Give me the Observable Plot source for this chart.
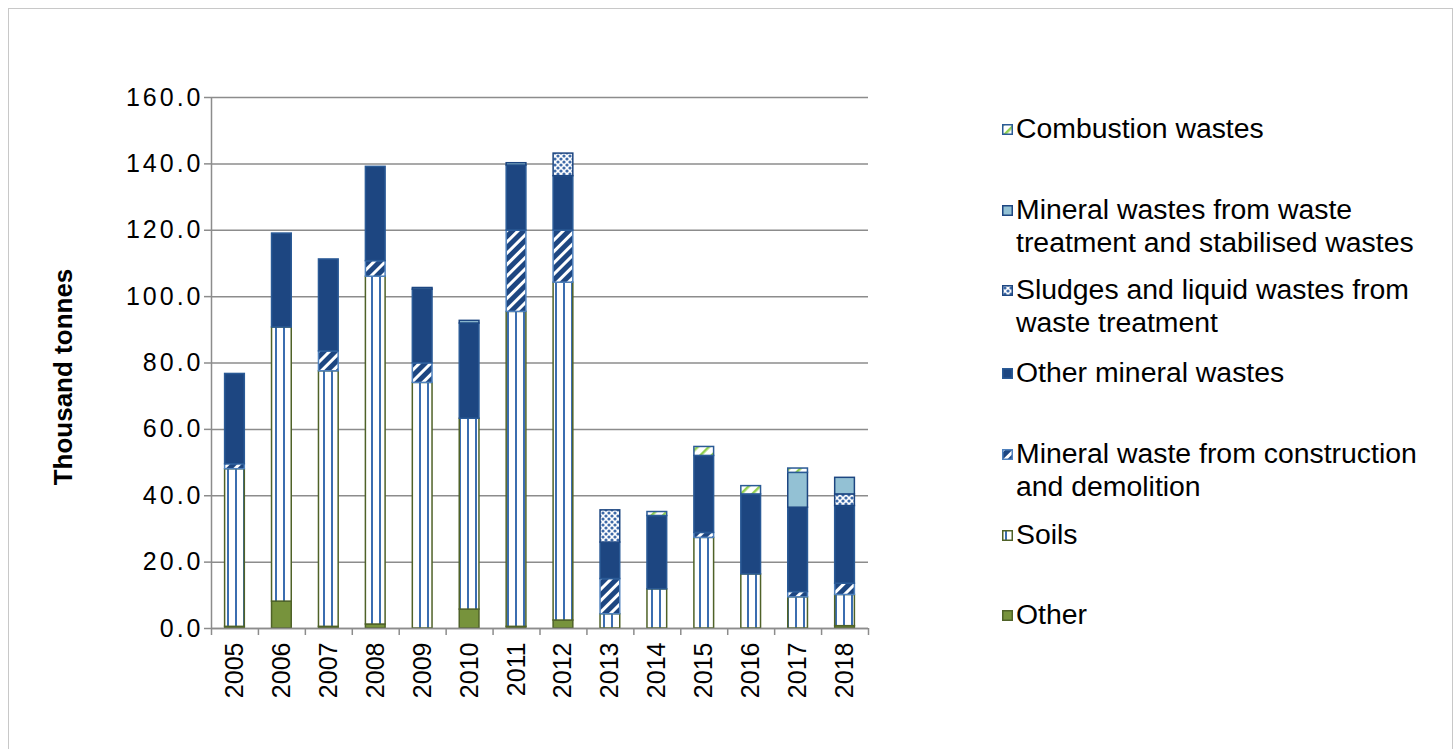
<!DOCTYPE html>
<html>
<head>
<meta charset="utf-8">
<script src="https://cdn.jsdelivr.net/npm/d3@7"></script>
<script src="https://cdn.jsdelivr.net/npm/@observablehq/plot@0.6"></script>
<style>
  html, body { margin: 0; padding: 0; background: #fff; }
  body { width: 1455px; height: 749px; position: relative; overflow: hidden; font-family: "Liberation Sans", Arial, sans-serif; }
  #frame { position: absolute; left: 8px; top: 8px; width: 1445px; height: 760px; border: 1px solid #c8c8c8; box-sizing: border-box; }
  #chart { position: absolute; left: 0; top: 0; }
  #legend { position: absolute; left: 0; top: 0; width: 1455px; height: 749px; pointer-events: none; }
  .item { position: absolute; left: 1016px; font-size: 28.4px; line-height: 33px; color: #000; white-space: nowrap; }
  .sw { position: absolute; left: 1002px; width: 11px; height: 11px; }
</style>
</head>
<body>
<svg width="0" height="0" style="position:absolute">
  <defs>
    <pattern id="p-soils" patternUnits="userSpaceOnUse" width="8" height="8">
      <rect width="8" height="8" fill="#ffffff"/>
      <rect x="3" y="0" width="2" height="8" fill="#3b6db0"/>
    </pattern>
    <pattern id="p-cdw" patternUnits="userSpaceOnUse" width="8" height="8" patternTransform="rotate(45)">
      <rect width="8" height="8" fill="#1d4681"/>
      <rect x="0" y="0" width="3" height="8" fill="#ffffff"/>
    </pattern>
    <pattern id="p-sludge" patternUnits="userSpaceOnUse" width="6" height="6">
      <rect width="6" height="6" fill="#ffffff"/>
      <circle cx="0" cy="0" r="1.6" fill="#3e6aa8"/>
      <circle cx="6" cy="0" r="1.6" fill="#3e6aa8"/>
      <circle cx="0" cy="6" r="1.6" fill="#3e6aa8"/>
      <circle cx="6" cy="6" r="1.6" fill="#3e6aa8"/>
      <circle cx="3" cy="3" r="1.6" fill="#3e6aa8"/>
    </pattern>
    <pattern id="p-cw" patternUnits="userSpaceOnUse" width="8" height="8" patternTransform="rotate(45)">
      <rect width="8" height="8" fill="#ffffff"/>
      <rect x="0" y="0" width="2.5" height="8" fill="#92d050"/>
    </pattern>
  </defs>
</svg>
<div id="frame"></div>
<div id="chart"></div>
<div id="legend"></div>
<script>
// ---- data ----
const years = ["2005","2006","2007","2008","2009","2010","2011","2012","2013","2014","2015","2016","2017","2018"];
const categories = [
  "Other",
  "Soils",
  "Mineral waste from construction and demolition",
  "Other mineral wastes",
  "Sludges and liquid wastes from waste treatment",
  "Mineral wastes from waste treatment and stabilised wastes",
  "Combustion wastes"
];
const other   = [0.5, 8.1, 0.5, 1.2, 0,   5.7, 0.5,  2.4,   0,    0,    0,    0,    0,    0.7];
const soils   = [47.5,82.6,77.0,104.8,74.0,57.5,94.9,101.8, 4.3,  11.8, 27.3, 16.3, 9.4,  9.4];
const cdw     = [1.5, 0,   6.0, 4.7, 5.9, 0,   24.5, 15.7,  10.6, 0,    1.5,  0,    1.6,  3.4];
const omw     = [27.2,28.3,27.7,28.4,22.2,28.7,19.6, 16.4,  11.0, 22.1, 23.2, 24.1, 25.4, 23.4];
const sludges = [0,   0,   0,   0,   0,   0,   0,    6.8,   9.7,  0,    0,    0,    0,    3.5];
const mwt     = [0,   0,   0,   0,   0.5, 0.8, 0.7,  0,     0,    0,    0,    0,    10.5, 5.0];
const cw      = [0,   0,   0,   0,   0,   0,   0,    0,     0,    1.2,  2.7,  2.5,  1.3,  0];
const yTicks = [0, 20, 40, 60, 80, 100, 120, 140, 160];

const seriesValues = [other, soils, cdw, omw, sludges, mwt, cw];

// ---- styles per category ----
const fills = {
  "Other": "#77933c",
  "Soils": "url(#p-soils)",
  "Mineral waste from construction and demolition": "url(#p-cdw)",
  "Other mineral wastes": "#1d4681",
  "Sludges and liquid wastes from waste treatment": "url(#p-sludge)",
  "Mineral wastes from waste treatment and stabilised wastes": "#93c1d4",
  "Combustion wastes": "url(#p-cw)"
};
const strokes = {
  "Other": "#4f6228",
  "Soils": "#4f6228",
  "Mineral waste from construction and demolition": "#4f81bd",
  "Other mineral wastes": "#2a5a96",
  "Sludges and liquid wastes from waste treatment": "#1d4681",
  "Mineral wastes from waste treatment and stabilised wastes": "#1d4681",
  "Combustion wastes": "#2a5a96"
};

const rows = [];
years.forEach((y, i) => {
  categories.forEach((c, k) => {
    const v = seriesValues[k][i];
    if (v > 0) rows.push({year: y, category: c, value: v});
  });
});

const W = 880, H = 749, mL = 211, mR = 12, mT = 97, mB = 121;
const pad = 0.58;
const step = (W - mL - mR) / years.length;
const gridColor = "#8c8c8c";

const chart = Plot.plot({
  width: W,
  height: H,
  marginLeft: mL,
  marginRight: mR,
  marginTop: mT,
  marginBottom: mB,
  style: {fontFamily: "'Liberation Sans', Arial, sans-serif", fontSize: "25px", color: "#000", background: "transparent"},
  x: {domain: years, paddingInner: pad, paddingOuter: pad / 2, round: false, label: null},
  y: {domain: [0, 160], label: null},
  color: {type: "identity"},
  marks: [
    Plot.gridY(yTicks, {stroke: gridColor, strokeOpacity: 1, strokeWidth: 1.5}),
    Plot.axisY(yTicks, {tickFormat: d3.format(".1f"), tickSize: 7, tickPadding: 1, stroke: gridColor, strokeWidth: 1.5, fontSize: 25, label: null}),
    Plot.axisX({tickSize: 0, tickPadding: 14, tickRotate: -90, fontSize: 25, label: null}),
    Plot.ruleX(years, {x: d => d, dx: -step / 2, insetTop: H - mT - mB, insetBottom: -7, stroke: gridColor, strokeWidth: 1.5}),
    Plot.ruleX(years.slice(-1), {x: d => d, dx: step / 2, insetTop: H - mT - mB, insetBottom: -7, stroke: gridColor, strokeWidth: 1.5}),
    Plot.ruleX(years.slice(0, 1), {x: d => d, dx: -step / 2, stroke: gridColor, strokeWidth: 1.5}),
    Plot.barY(rows, {
      x: "year",
      y: "value",
      fill: d => fills[d.category],
      stroke: d => strokes[d.category],
      strokeWidth: 1.5
    }),
    Plot.ruleY([0], {stroke: gridColor, strokeWidth: 1.5}),
    Plot.text(["Thousand tonnes"], {frameAnchor: "left", textAnchor: "middle", dx: -148, dy: 14, rotate: -90, fontWeight: "bold", fontSize: 26})
  ]
});
document.getElementById("chart").appendChild(chart);
d3.select(chart).selectAll('g[aria-label="y-axis tick label"] text').style("letter-spacing", "3px");

// ---- legend (top to bottom, reverse stacking order) ----
const legendItems = [
  {c: "Combustion wastes", lines: ["Combustion wastes"], top: 112},
  {c: "Mineral wastes from waste treatment and stabilised wastes", lines: ["Mineral wastes from waste", "treatment and stabilised wastes"], top: 193},
  {c: "Sludges and liquid wastes from waste treatment", lines: ["Sludges and liquid wastes from", "waste treatment"], top: 273},
  {c: "Other mineral wastes", lines: ["Other mineral wastes"], top: 356},
  {c: "Mineral waste from construction and demolition", lines: ["Mineral waste from construction", "and demolition"], top: 437},
  {c: "Soils", lines: ["Soils"], top: 518},
  {c: "Other", lines: ["Other"], top: 598}
];
const leg = document.getElementById("legend");
legendItems.forEach(it => {
  const sw = document.createElementNS("http://www.w3.org/2000/svg", "svg");
  sw.setAttribute("class", "sw");
  sw.setAttribute("width", "11");
  sw.setAttribute("height", "11");
  sw.style.top = (it.top + 12) + "px";
  const r = document.createElementNS("http://www.w3.org/2000/svg", "rect");
  r.setAttribute("x", "0.75"); r.setAttribute("y", "0.75");
  r.setAttribute("width", "9.5"); r.setAttribute("height", "9.5");
  r.setAttribute("fill", fills[it.c]);
  r.setAttribute("stroke", strokes[it.c]);
  r.setAttribute("stroke-width", "1.5");
  sw.appendChild(r);
  leg.appendChild(sw);
  const t = document.createElement("div");
  t.className = "item";
  t.style.top = it.top + "px";
  t.innerHTML = it.lines.join("<br>");
  leg.appendChild(t);
});
</script>
</body>
</html>
